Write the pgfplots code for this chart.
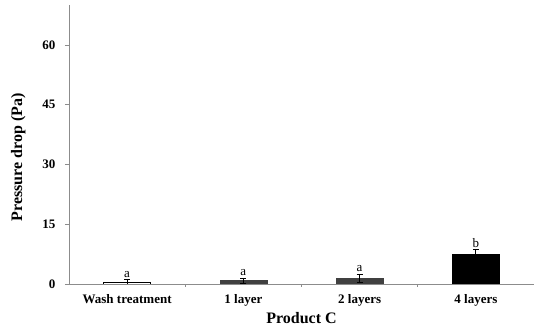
\documentclass[border=0pt]{standalone}
\usepackage{fontspec}
\setmainfont{Liberation Serif}
\usepackage{pgfplots}
\pgfplotsset{compat=1.18}
\definecolor{axgray}{RGB}{140,140,140}
\definecolor{darkbar}{RGB}{64,64,64}
\begin{document}
\begin{tikzpicture}
\begin{axis}[
  scale only axis, width=465pt, height=279pt,
  xmin=-0.5, xmax=3.5, ymin=0, ymax=70,
  axis x line*=bottom, axis y line*=left,
  axis line style={axgray, line width=0.8pt, -},
  ytick={0,15,30,45,60},
  xtick={0,1,2,3},
  xticklabels={Wash treatment,1 layer,2 layers,4 layers},
  minor xtick={0.5,1.5,2.5},
  x tick style={draw=none},
  minor x tick style={draw=axgray, line width=0.6pt},
  minor tick length=3pt,
  y tick style={axgray, line width=0.6pt},
  major tick length=4pt,
  ytick align=outside, 
  xtick align=inside,
  tick label style={font=\fontsize{13}{15}\selectfont\bfseries},
  /pgf/number format/assume math mode=true,
  xticklabel style={yshift=-3pt},
  yticklabel style={xshift=-6pt},
  xlabel={Product C}, ylabel={Pressure drop (Pa)},
  label style={font=\fontsize{16}{18}\selectfont\bfseries},
  xlabel style={yshift=1pt},
  ylabel style={yshift=10pt, xshift=-13pt},
  ybar, bar width=47pt,
  error bars/y dir=both, error bars/y explicit,
  error bars/error bar style={black, line width=0.8pt},
  error bars/error mark options={black, rotate=90, mark size=3pt, line width=0.8pt},
]
\addplot[bar shift=0pt, fill=white, draw=black, line width=0.5pt] coordinates {(0,0.5) +- (0,0.6)};
\addplot[bar shift=0pt, fill=darkbar, draw=darkbar] coordinates {(1,0.85) +- (0,0.6)};
\addplot[bar shift=0pt, fill=darkbar, draw=darkbar] coordinates {(2,1.5) +- (0,1.0)};
\addplot[bar shift=0pt, fill=black, draw=black] coordinates {(3,7.4) +- (0,1.2)};
\node[above, font=\fontsize{13}{15}\selectfont, inner sep=2pt] at (axis cs:0,1.1) {a};
\node[above, font=\fontsize{13}{15}\selectfont, inner sep=2pt] at (axis cs:1,1.45) {a};
\node[above, font=\fontsize{13}{15}\selectfont, inner sep=2pt] at (axis cs:2,2.5) {a};
\node[above, font=\fontsize{13}{15}\selectfont, inner sep=2pt] at (axis cs:3,8.6) {b};
\end{axis}
\pgfresetboundingbox
\path ([shift={(-69pt,-44pt)}]current axis.south west) rectangle ([shift={(0pt,5pt)}]current axis.north east);
\end{tikzpicture}
\end{document}
